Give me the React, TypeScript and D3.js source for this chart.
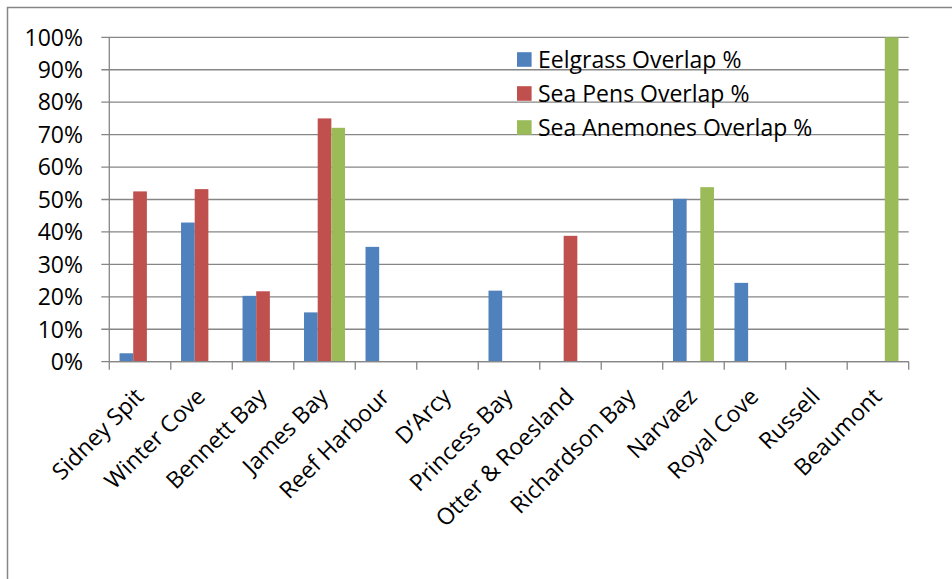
import React from "react";
import * as d3 from "d3";

const categories = [
  "Sidney Spit",
  "Winter Cove",
  "Bennett Bay",
  "James Bay",
  "Reef Harbour",
  "D\u2019Arcy",
  "Princess Bay",
  "Otter & Roesland",
  "Richardson Bay",
  "Narvaez",
  "Royal Cove",
  "Russell",
  "Beaumont",
];

const seriesNames = ["Eelgrass Overlap %", "Sea Pens Overlap %", "Sea Anemones Overlap %"];
const seriesColors = ["#4F81BD", "#C0504D", "#9BBB59"];

const eelgrass = [2.6, 42.9, 20.3, 15.2, 35.4, 0, 21.9, 0, 0, 50.2, 24.3, 0, 0];
const seaPens = [52.5, 53.2, 21.7, 75.0, 0, 0, 0, 38.8, 0, 0, 0, 0, 0];
const seaAnemones = [0, 0, 0, 72.1, 0, 0, 0, 0, 0, 53.8, 0, 0, 100];

const yTicks = [0, 10, 20, 30, 40, 50, 60, 70, 80, 90, 100];

const W = 952;
const H = 579;
const plot = { left: 109.3, right: 908.7, top: 37.3, bottom: 361.7 };
const FONT = "'Open Sans', sans-serif";
const GRID = "#868686";
const FS = 23;

export default function App() {
  const allSeries = [eelgrass, seaPens, seaAnemones];

  const x = d3
    .scaleBand<string>()
    .domain(categories)
    .range([plot.left, plot.right])
    .paddingInner(0)
    .paddingOuter(0);

  const xInner = d3
    .scaleBand<string>()
    .domain(seriesNames)
    .range([0, x.bandwidth()])
    .paddingInner(0)
    .paddingOuter(0.75);

  const y = d3.scaleLinear().domain([0, 100]).range([plot.bottom, plot.top]);

  const tickXs = categories.map((c) => x(c)!).concat([plot.right]);

  return (
    <svg
      width={W}
      height={H}
      style={{ position: "absolute", left: 0, top: 0, background: "#fff" }}
      fontFamily={FONT}
    >
      {/* chart frame */}
      <rect x={7.5} y={7.5} width={W + 20} height={H + 20} fill="#fff" stroke={GRID} strokeWidth={1.5} />

      {/* horizontal gridlines and y ticks */}
      {yTicks.map((t) => (
        <g key={t}>
          <line x1={plot.left - 8} x2={plot.right} y1={y(t)} y2={y(t)} stroke={GRID} strokeWidth={1.3} />
          <text x={83} y={y(t)} dy="0.36em" textAnchor="end" fontSize={FS} fill="#000">
            {t}%
          </text>
        </g>
      ))}

      {/* y axis */}
      <line x1={plot.left} x2={plot.left} y1={plot.top} y2={plot.bottom} stroke={GRID} strokeWidth={1.3} />

      {/* bars */}
      {allSeries.map((vals, si) =>
        vals.map((v, ci) =>
          v > 0 ? (
            <rect
              key={`${si}-${ci}`}
              x={x(categories[ci])! + xInner(seriesNames[si])!}
              y={y(v)}
              width={xInner.bandwidth()}
              height={y(0) - y(v)}
              fill={seriesColors[si]}
            />
          ) : null
        )
      )}

      {/* x axis and tick marks */}
      <line x1={plot.left} x2={plot.right} y1={plot.bottom} y2={plot.bottom} stroke={GRID} strokeWidth={1.3} />
      {tickXs.map((tx, i) => (
        <line key={i} x1={tx} x2={tx} y1={plot.bottom} y2={plot.bottom + 8} stroke={GRID} strokeWidth={1.3} />
      ))}

      {/* category labels */}
      {categories.map((c) => {
        const cx = x(c)! + x.bandwidth() / 2 + 5;
        const cy = 398;
        return (
          <text
            key={c}
            transform={`translate(${cx},${cy}) rotate(-45)`}
            textAnchor="end"
            fontSize={FS}
            fill="#000"
          >
            {c}
          </text>
        );
      })}

      {/* legend */}
      {seriesNames.map((s, i) => {
        const cy = 59.5 + i * 34;
        return (
          <g key={s}>
            <rect x={517} y={cy - 7.3} width={14.6} height={14.6} fill={seriesColors[i]} />
            <text x={538} y={cy} dy="0.36em" fontSize={FS} fill="#000">
              {s}
            </text>
          </g>
        );
      })}
    </svg>
  );
}
